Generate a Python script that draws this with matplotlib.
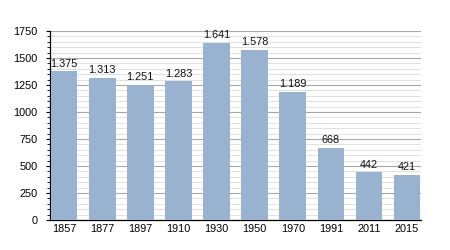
import matplotlib
matplotlib.use('Agg')
import matplotlib.pyplot as plt
from matplotlib.ticker import MultipleLocator

years = ['1857', '1877', '1897', '1910', '1930', '1950', '1970', '1991', '2011', '2015']
population = [1375, 1313, 1251, 1283, 1641, 1578, 1189, 668, 442, 421]

plt.rcParams['font.family'] = ['Liberation Sans', 'DejaVu Sans']

fig = plt.figure(figsize=(4.5, 2.5), dpi=100)
ax = fig.add_axes([0.111, 0.12, 0.825, 0.756])

x = range(len(years))
ax.bar(x, population, width=0.7, color='#98b2cf', zorder=3)
for xi, v in zip(x, population):
    label = '{:,}'.format(v).replace(',', '.')
    ax.text(xi, v + 25, label, ha='center', va='bottom', fontsize=7.8, color='#111111', zorder=4)

ax.set_xlim(-0.37, 9.37)
ax.set_ylim(0, 1750)
ax.set_xticks(list(x))
ax.set_xticklabels(years)
ax.yaxis.set_major_locator(MultipleLocator(250))
ax.yaxis.set_minor_locator(MultipleLocator(50))
ax.grid(axis='y', which='major', color='#a8a8a8', linewidth=0.8, zorder=1)
ax.grid(axis='y', which='minor', color='#dcdcdc', linewidth=0.6, zorder=1)

for side in ['top', 'right']:
    ax.spines[side].set_visible(False)
ax.spines['left'].set_linewidth(0.9)
ax.spines['bottom'].set_linewidth(0.9)
ax.tick_params(axis='x', length=0, labelsize=7.8, pad=3)
ax.tick_params(axis='y', which='major', length=3, width=0.8, labelsize=7.8, pad=6)
ax.tick_params(axis='y', which='minor', length=2, width=0.6)

fig.savefig('out.png', dpi=100)
